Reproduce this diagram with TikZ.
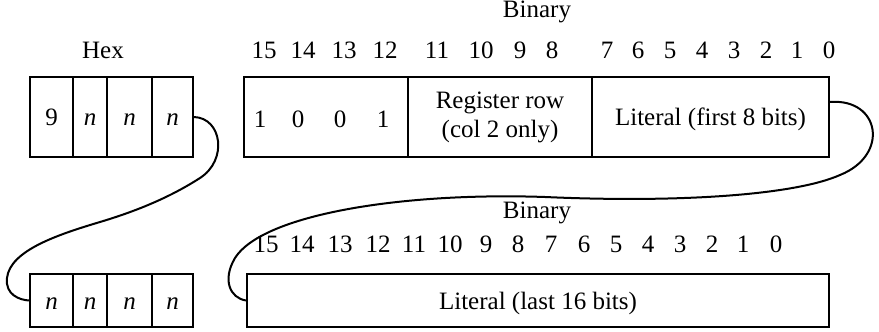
\documentclass[tikz,border=0pt]{standalone}
\usepackage{fontspec}
\setmainfont{Liberation Serif}

\begin{document}
\begin{tikzpicture}[x=0.5pt, y=-0.5pt,
    cell/.style={draw, line width=1pt, inner sep=0pt, align=center,
                 font=\fontsize{12.5}{14.5}\selectfont, text height=8.8pt, text depth=0pt},
    bitnum/.style={inner sep=0pt, font=\fontsize{12.5}{14.5}\selectfont},
    heading/.style={inner sep=0pt, font=\fontsize{12.5}{14.5}\selectfont},
    link/.style={line width=1pt}
  ]
    \useasboundingbox (0,0) rectangle (879,332);

    % Hex, first word
    \node[heading] (hexlbl) at (103,50) {Hex};
    \node[cell, minimum width=21.5pt, minimum height=40pt] (ha) at (51.5,117) {9};
    \node[cell, minimum width=17pt, minimum height=40pt] (hb) at (90,117) {\textit{n}};
    \node[cell, minimum width=22.5pt, minimum height=40pt] (hc) at (129.5,117) {\textit{n}};
    \node[cell, minimum width=20.5pt, minimum height=40pt] (hd) at (172.5,117) {\textit{n}};

    % Binary, first word
    \node[heading] (binlbl) at (537,12) {Binary};
    \foreach \x/\b in {264/15, 303/14, 344/13, 385/12, 437/11, 481/10, 520/9, 552/8,
                       607/7, 638/6, 670/5, 702/4, 734/3, 766/2, 797/1, 829/0}
      \node[bitnum] (top\b) at (\x,50) {\b};
    \node[cell, minimum width=82pt, minimum height=40pt] (op) at (326,117) {};
    \node[cell, minimum width=92pt, minimum height=40pt, text height=, text depth=]
      (reg) at (500,117) {Register row\\(col 2 only)};
    \node[cell, minimum width=118.5pt, minimum height=40pt] (lit) at (710.5,117)
      {Literal (first 8 bits)};
    \foreach \x/\b [count=\i] in {260/1, 298/0, 340/0, 383/1}
      \node[bitnum] (op\i) at (\x,119) {\b};

    % Hex, second word
    \node[cell, minimum width=21.5pt, minimum height=26.5pt] (ga) at (51.5,300.5) {\textit{n}};
    \node[cell, minimum width=17pt, minimum height=26.5pt] (gb) at (90,300.5) {\textit{n}};
    \node[cell, minimum width=22.5pt, minimum height=26.5pt] (gc) at (129.5,300.5) {\textit{n}};
    \node[cell, minimum width=20.5pt, minimum height=26.5pt] (gd) at (172.5,300.5) {\textit{n}};

    % Binary, second word
    \node[heading] (binlbl2) at (537,213) {Binary};
    \foreach \x/\b in {266/15, 302/14, 340/13, 378/12, 414/11, 450/10, 486/9, 518/8,
                       551/7, 584/6, 616/5, 648/4, 680/3, 712/2, 743/1, 776/0}
      \node[bitnum] (bot\b) at (\x,244) {\b};
    \node[cell, minimum width=291pt, minimum height=26.5pt] (lit2) at (538,300.5)
      {Literal (last 16 bits)};

    % Continuation curves
    \draw[link] (hd.east) .. controls (222,118) and (228,160) .. (200,178)
      .. controls (172,196) and (140,210) .. (100,222)
      .. controls (60,234) and (10,250) .. (7,278)
      .. controls (5,295) and (20,300) .. (ga.west);
    \draw[link] ([yshift=7.5pt]lit.east) .. controls (880,98) and (890,155) .. (840,175)
      .. controls (795,195) and (680,203) .. (545,197)
      .. controls (400,192) and (262,215) .. (235,258)
      .. controls (222,280) and (230,298) .. (lit2.west);
\end{tikzpicture}
\end{document}
